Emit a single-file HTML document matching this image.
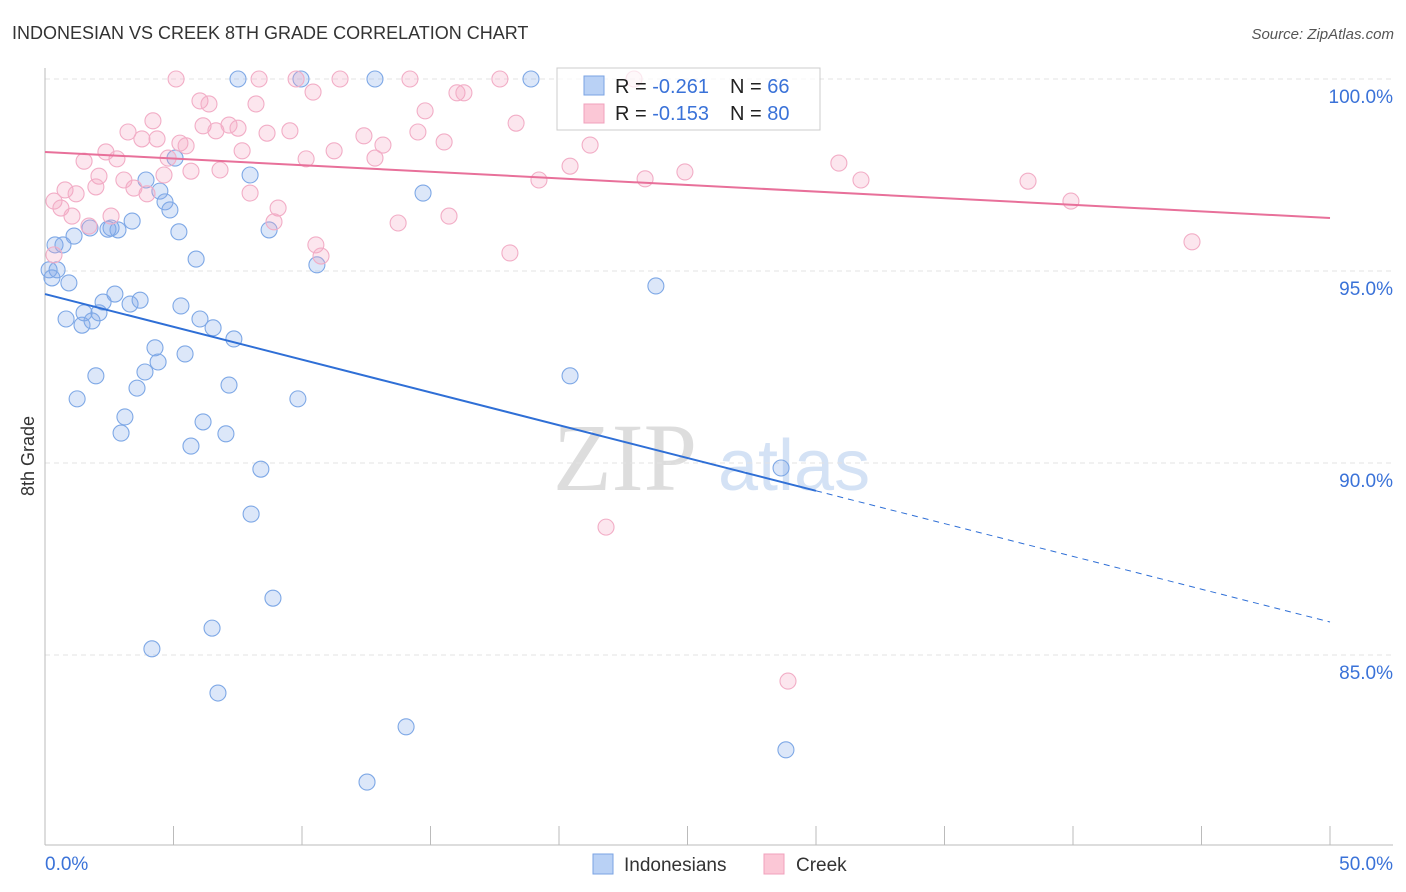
<!DOCTYPE html>
<html><head><meta charset="utf-8"><style>
body{margin:0;background:#fff;font-family:"Liberation Sans",sans-serif;}
svg{display:block}
</style></head><body>
<svg id="chart" width="1406" height="892">
<text x="12" y="39" font-size="18" fill="#333">INDONESIAN VS CREEK 8TH GRADE CORRELATION CHART</text>
<text x="1394" y="39" font-size="15" fill="#555" font-style="italic" text-anchor="end">Source: ZipAtlas.com</text>
<text x="34" y="456" font-size="18" fill="#333" transform="rotate(-90 34 456)" text-anchor="middle">8th Grade</text>
<g><text x="553" y="490" font-size="96" fill="#ddd" font-family="Liberation Serif">ZIP</text><text x="718" y="490" font-size="72" fill="#d4e2f5">atlas</text></g>
<g id="grid"></g><g id="axes"></g><g id="pts"></g><g id="lines"></g>
<g>
<rect x="557" y="68" width="263" height="62" fill="rgba(255,255,255,0.7)" stroke="#ccc"/>
<rect x="584" y="76" width="20" height="19" fill="#b9d1f5" stroke="#7aa3e3"/>
<rect x="584" y="104" width="20" height="19" fill="#fbc7d6" stroke="#f0a0bc"/>
<text x="615" y="93" font-size="20" fill="#222">R = <tspan fill="#3a72d8">-0.261</tspan></text>
<text x="730" y="93" font-size="20" fill="#222">N = <tspan fill="#3a72d8">66</tspan></text>
<text x="615" y="120" font-size="20" fill="#222">R = <tspan fill="#3a72d8">-0.153</tspan></text>
<text x="730" y="120" font-size="20" fill="#222">N = <tspan fill="#3a72d8">80</tspan></text>
</g>
<g>
<rect x="593" y="854" width="20" height="20" fill="#b9d1f5" stroke="#7aa3e3"/>
<text x="624" y="871" font-size="19" fill="#333">Indonesians</text>
<rect x="764" y="854" width="20" height="20" fill="#fbc7d6" stroke="#f0a0bc"/>
<text x="796" y="871" font-size="19" fill="#333">Creek</text>
</g>
</svg>
<script>
const yTicks=[100,95,90,85];
const yTickLabels=["100.0%","95.0%","90.0%","85.0%"];
const xTicks=[0,5,10,15,20,25,30,35,40,45,50];
const xEndLabels=["0.0%","50.0%"];
const blueX=[7.51,9.96,12.84,18.91,0.39,0.70,0.16,0.47,0.27,0.93,1.13,1.75,2.57,2.84,3.39,2.45,3.93,4.47,4.67,4.86,5.06,5.21,5.88,7.98,8.72,10.58,14.71,23.77,0.82,1.44,1.83,1.52,2.10,2.26,2.72,3.31,3.70,5.29,6.03,6.54,7.35,4.28,5.45,4.40,3.89,1.98,3.58,7.16,1.25,9.84,3.11,6.15,2.96,7.04,5.68,8.40,20.43,28.64,8.02,8.87,6.50,4.16,6.73,14.05,12.53,28.83];
const blueY=[100,100,100,100,95.68,95.68,95.03,95.03,94.82,94.69,95.91,96.12,96.12,96.07,96.30,96.09,97.37,97.08,96.80,96.59,97.94,96.02,95.31,97.50,96.07,95.16,97.03,94.61,93.75,93.59,93.70,93.91,93.91,94.19,94.40,94.14,94.24,94.09,93.75,93.52,93.23,93.00,92.84,92.63,92.37,92.27,91.95,92.03,91.67,91.67,91.20,91.07,90.78,90.76,90.44,89.84,92.27,89.87,88.67,86.48,85.70,85.16,84.01,83.13,81.69,82.53];
const pinkX=[5.10,8.33,9.77,11.48,14.20,17.70,22.92,10.43,16.03,16.30,6.03,6.38,8.21,14.79,4.20,18.33,3.23,3.77,4.36,6.15,6.65,7.16,7.51,8.64,9.53,12.41,14.51,15.53,5.25,5.49,2.37,2.80,1.52,4.79,7.67,10.16,11.25,12.84,13.15,21.21,20.43,2.10,3.07,5.68,6.81,4.63,3.46,1.98,0.78,1.21,3.97,7.98,0.35,0.62,1.05,2.57,1.71,9.07,8.91,15.72,13.74,23.35,19.22,24.90,30.89,31.75,38.25,39.92,44.63,10.54,10.74,18.09,0.35,21.83,28.91];
const pinkY=[100,100,100,100,100,100,100,99.66,99.64,99.64,99.43,99.35,99.35,99.17,98.91,98.85,98.62,98.44,98.44,98.78,98.65,98.80,98.72,98.59,98.65,98.52,98.62,98.36,98.33,98.26,98.10,97.92,97.86,97.94,98.13,97.92,98.13,97.94,98.28,98.28,97.73,97.47,97.37,97.60,97.63,97.50,97.16,97.19,97.11,97.01,97.01,97.03,96.82,96.64,96.43,96.43,96.17,96.64,96.28,96.43,96.25,97.40,97.37,97.58,97.81,97.37,97.34,96.82,95.76,95.68,95.39,95.47,95.42,88.33,84.32];
const blueTrend=[94.4,85.86];
const pinkTrend=[98.1,96.38];
const blueSolidEnd=30;

const NS="http://www.w3.org/2000/svg";
const X=v=>45+v*25.7;
const Y=v=>79+(100-v)*38.4;
function mk(parent,tag,attrs){const e=document.createElementNS(NS,tag);for(const k in attrs)e.setAttribute(k,attrs[k]);document.getElementById(parent).appendChild(e);return e;}
yTicks.forEach((t,i)=>{
  const l=mk('grid','line',{x1:45,x2:1393,y1:Y(t),y2:Y(t),stroke:'#e3e3e3','stroke-dasharray':'5,4'});
  
  
  const tx=mk('grid','text',{x:1393,y:Y(t)+24,'font-size':19,fill:'#3a72d8','text-anchor':'end'});
  tx.textContent=yTickLabels[i];
  
  
});
let a=mk('axes','line',{x1:45,x2:45,y1:68,y2:845,stroke:'#bbb'});


a=mk('axes','line',{x1:45,x2:1393,y1:845,y2:845,stroke:'#bbb'});


xTicks.forEach(t=>{
  const l=mk('axes','line',{x1:X(t),x2:X(t),y1:826,y2:845,stroke:'#bbb'});
  
  
});
let t0=mk('axes','text',{x:45,y:870,'font-size':19,fill:'#3a72d8'});t0.textContent=xEndLabels[0];


let t1=mk('axes','text',{x:1393,y:870,'font-size':19,fill:'#3a72d8','text-anchor':'end'});t1.textContent=xEndLabels[1];


blueX.forEach((x,i)=>{
  const c=mk('pts','circle',{cx:X(x),cy:Y(blueY[i]),r:8,fill:'rgba(130,170,235,0.28)',stroke:'#7ea8e6','stroke-width':1.1});
  
  
});
pinkX.forEach((x,i)=>{
  const c=mk('pts','circle',{cx:X(x),cy:Y(pinkY[i]),r:8,fill:'rgba(245,165,195,0.28)',stroke:'#f2adc6','stroke-width':1.1});
  
  
});
const bAt=v=>blueTrend[0]+(blueTrend[1]-blueTrend[0])*v/50;
let bl=mk('lines','line',{x1:X(0),y1:Y(blueTrend[0]),x2:X(blueSolidEnd),y2:Y(bAt(blueSolidEnd)),stroke:'#2f6fd6','stroke-width':2});


bl=mk('lines','line',{x1:X(blueSolidEnd),y1:Y(bAt(blueSolidEnd)),x2:X(50),y2:Y(blueTrend[1]),stroke:'#2f6fd6','stroke-width':1,'stroke-dasharray':'6,5'});


let pl=mk('lines','line',{x1:X(0),y1:Y(pinkTrend[0]),x2:X(50),y2:Y(pinkTrend[1]),stroke:'#e8709a','stroke-width':2});


</script>
</body></html>
